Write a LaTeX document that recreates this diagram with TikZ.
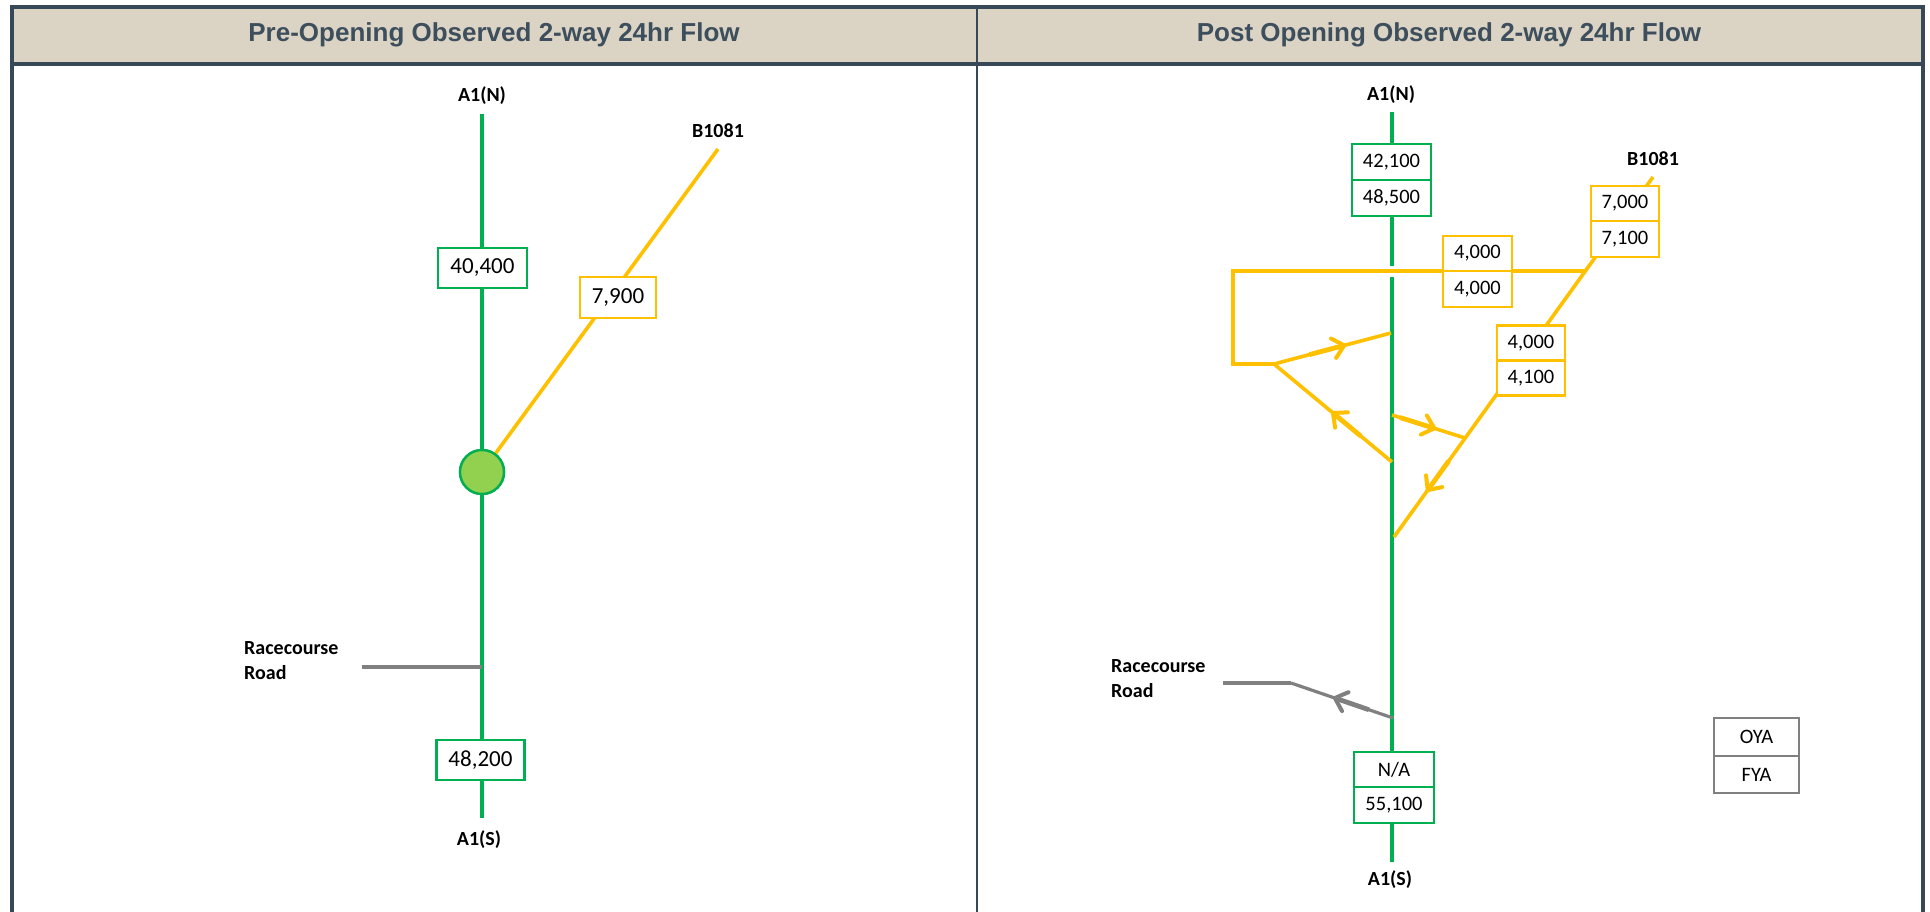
\documentclass[tikz,border=0pt]{standalone}
\usepackage{fontspec}
\setmainfont{Carlito}
\newfontfamily\headfont{Liberation Sans}
\usetikzlibrary{decorations.markings}
\definecolor{frame}{HTML}{374956}
\definecolor{headbg}{HTML}{DBD3C4}
\definecolor{headtxt}{HTML}{3D4E5C}
\definecolor{rdgreen}{HTML}{00B050}
\definecolor{rdyellow}{HTML}{FFC000}
\definecolor{rdgrey}{HTML}{808080}
\definecolor{jnfill}{HTML}{92D050}
\tikzset{
  road/.style={line width=3.6pt},
  greenroad/.style={road, draw=rdgreen},
  yellowroad/.style={road, draw=rdyellow},
  greyroad/.style={road, draw=rdgrey, line width=3.2pt},
  lbl/.style={font=\bfseries\fontsize{20}{24}\selectfont, inner sep=0pt},
  cell/.style={draw, fill=white, line width=2.4pt, inner sep=0pt,
    font=\fontsize{20.5}{24}\selectfont},
  bigcell/.style={cell, font=\fontsize{23}{27}\selectfont},
  headtitle/.style={font=\headfont\bfseries\fontsize{26}{30}\selectfont, text=headtxt, inner sep=0pt},
  % open chevron placed part way along a road, pointing along the road,
  % with a slightly heavier stretch of road just behind it
  midarrow/.style 2 args={postaction={decorate, decoration={markings,
    mark=at position #1 with {
      \draw[#2, line width=4.8pt] (-36pt,0pt) -- (-2pt,0pt);
      \draw[#2, line width=4pt, line cap=round, line join=round]
        (-11pt,10pt) -- (0pt,0pt) -- (-11pt,-10pt);}}}}
}
\begin{document}
\begin{tikzpicture}[x=1pt,y=-1pt]
\useasboundingbox (0,0) rectangle (1930,912);
\fill[white] (0,0) rectangle (1930,912);

% header band and table frame
\fill[headbg] (12,7) rectangle (1923,64);
\draw[frame, line width=2.3pt] (977,7) -- (977,912);
\draw[frame, line width=4pt] (10,64) -- (1925,64);
\draw[frame, line width=4pt] (10,7) -- (1925,7);
\draw[frame, line width=4pt] (12,5) -- (12,912);
\draw[frame, line width=4pt] (1923,5) -- (1923,912);
\node[headtitle] (t1) at (494,35) {Pre-Opening Observed 2-way 24hr Flow};
\node[headtitle] (t2) at (1449,35) {Post Opening Observed 2-way 24hr Flow};

% ---------- pre-opening network ----------
\coordinate (LNtop) at (482,114);
\coordinate (LStop) at (482,818);
\coordinate (LBend) at (718,149);
\coordinate (LRw) at (362,667);
\coordinate (LRe) at (482,667);
\node[circle, draw=rdgreen, fill=jnfill, line width=2.4pt, minimum size=44pt, inner sep=0pt] (Ljn) at (482,472) {};
\draw[greenroad] (LNtop) -- (LStop);
\draw[yellowroad] (Ljn.center) -- (LBend);
\draw[greyroad] (LRw) -- (LRe);
\node[circle, draw=rdgreen, fill=jnfill, line width=2.4pt, minimum size=44pt, inner sep=0pt] (Ljn2) at (Ljn) {};
\node[bigcell, draw=rdgreen, minimum width=89pt, minimum height=40pt] (L40400) at (482.5,268) {40,400};
\node[bigcell, draw=rdyellow, minimum width=76pt, minimum height=41pt] (L7900) at (618,297.5) {7,900};
\node[bigcell, draw=rdgreen, minimum width=88pt, minimum height=40pt] (L48200) at (480.5,760) {48,200};
\node[lbl] (LNlab) at (482,96) {A1(N)};
\node[lbl] (LSlab) at (479,840) {A1(S)};
\node[lbl] (LBlab) at (718,131) {B1081};
\node[lbl, anchor=west, align=left, font=\bfseries\fontsize{20}{25}\selectfont] (LRlab) at (244,661) {Racecourse\\Road};

% ---------- post-opening network ----------
\coordinate (RNtop) at (1392,112);
\coordinate (RGapA) at (1392,266);
\coordinate (RGapB) at (1392,277);
\coordinate (RStop) at (1392,862);
\draw[greenroad] (RNtop) -- (RGapA);
\draw[greenroad] (RGapB) -- (RStop);

\coordinate (RBend) at (1653,177);
\coordinate (RDiagFoot) at (1394,537);
\coordinate (RHJoin) at (1585,271);
\coordinate (RLoopTL) at (1233,271);
\coordinate (RLoopBL) at (1233,364);
\coordinate (RLoopK) at (1274,364);
\coordinate (RMergeN) at (1391,333);
\coordinate (RDivS) at (1392,462);
\coordinate (RDivE) at (1392,415);
\coordinate (RDiagJ) at (1465,438);

\draw[yellowroad, midarrow={0.87}{rdyellow}] (RBend) -- (RDiagFoot);
\draw[yellowroad, line join=miter] (RHJoin) -- (RLoopTL) -- (RLoopBL) -- (RLoopK);
\draw[yellowroad, midarrow={0.6}{rdyellow}] (RLoopK) -- (RMergeN);
\draw[yellowroad, midarrow={0.5}{rdyellow}] (RDivS) -- (RLoopK);
\draw[yellowroad, midarrow={0.58}{rdyellow}] (RDivE) -- (RDiagJ);

\coordinate (RRjn) at (1393,718);
\coordinate (RRk) at (1291,683);
\coordinate (RRw) at (1223,683);
\draw[greyroad, midarrow={0.57}{rdgrey}] (RRjn) -- (RRk);
\draw[greyroad] (RRk) -- (RRw);

% count boxes
\node[cell, draw=rdgreen, minimum width=79pt, minimum height=36pt] (RN1) at (1391.5,162) {42,100};
\node[cell, draw=rdgreen, minimum width=79pt, minimum height=36pt] (RN2) at (1391.5,198) {48,500};
\node[cell, draw=rdyellow, minimum width=69pt, minimum height=35.5pt] (RH1) at (1477.5,253.5) {4,000};
\node[cell, draw=rdyellow, minimum width=69pt, minimum height=35.5pt] (RH2) at (1477.5,289) {4,000};
\node[cell, draw=rdyellow, minimum width=68pt, minimum height=35.5pt] (RB1) at (1625,203.5) {7,000};
\node[cell, draw=rdyellow, minimum width=68pt, minimum height=35.5pt] (RB2) at (1625,239) {7,100};
\node[cell, draw=rdyellow, minimum width=68pt, minimum height=35pt] (RD1) at (1531,343) {4,000};
\node[cell, draw=rdyellow, minimum width=68pt, minimum height=35pt] (RD2) at (1531,378) {4,100};
\node[cell, draw=rdgreen, minimum width=80pt, minimum height=35.5pt] (RS1) at (1394,769.5) {N/A};
\node[cell, draw=rdgreen, minimum width=80pt, minimum height=35.5pt] (RS2) at (1394,805) {55,100};

% legend
\node[cell, draw=rdgrey, line width=2pt, minimum width=85pt, minimum height=37.5pt] (KO) at (1756.5,737) {OYA};
\node[cell, draw=rdgrey, line width=2pt, minimum width=85pt, minimum height=37.5pt] (KF) at (1756.5,774.5) {FYA};

\node[lbl] (RNlab) at (1391,95) {A1(N)};
\node[lbl] (RSlab) at (1390,880) {A1(S)};
\node[lbl] (RBlab) at (1653,159) {B1081};
\node[lbl, anchor=west, align=left, font=\bfseries\fontsize{20}{25}\selectfont] (RRlab) at (1111,679) {Racecourse\\Road};
\end{tikzpicture}
\end{document}
